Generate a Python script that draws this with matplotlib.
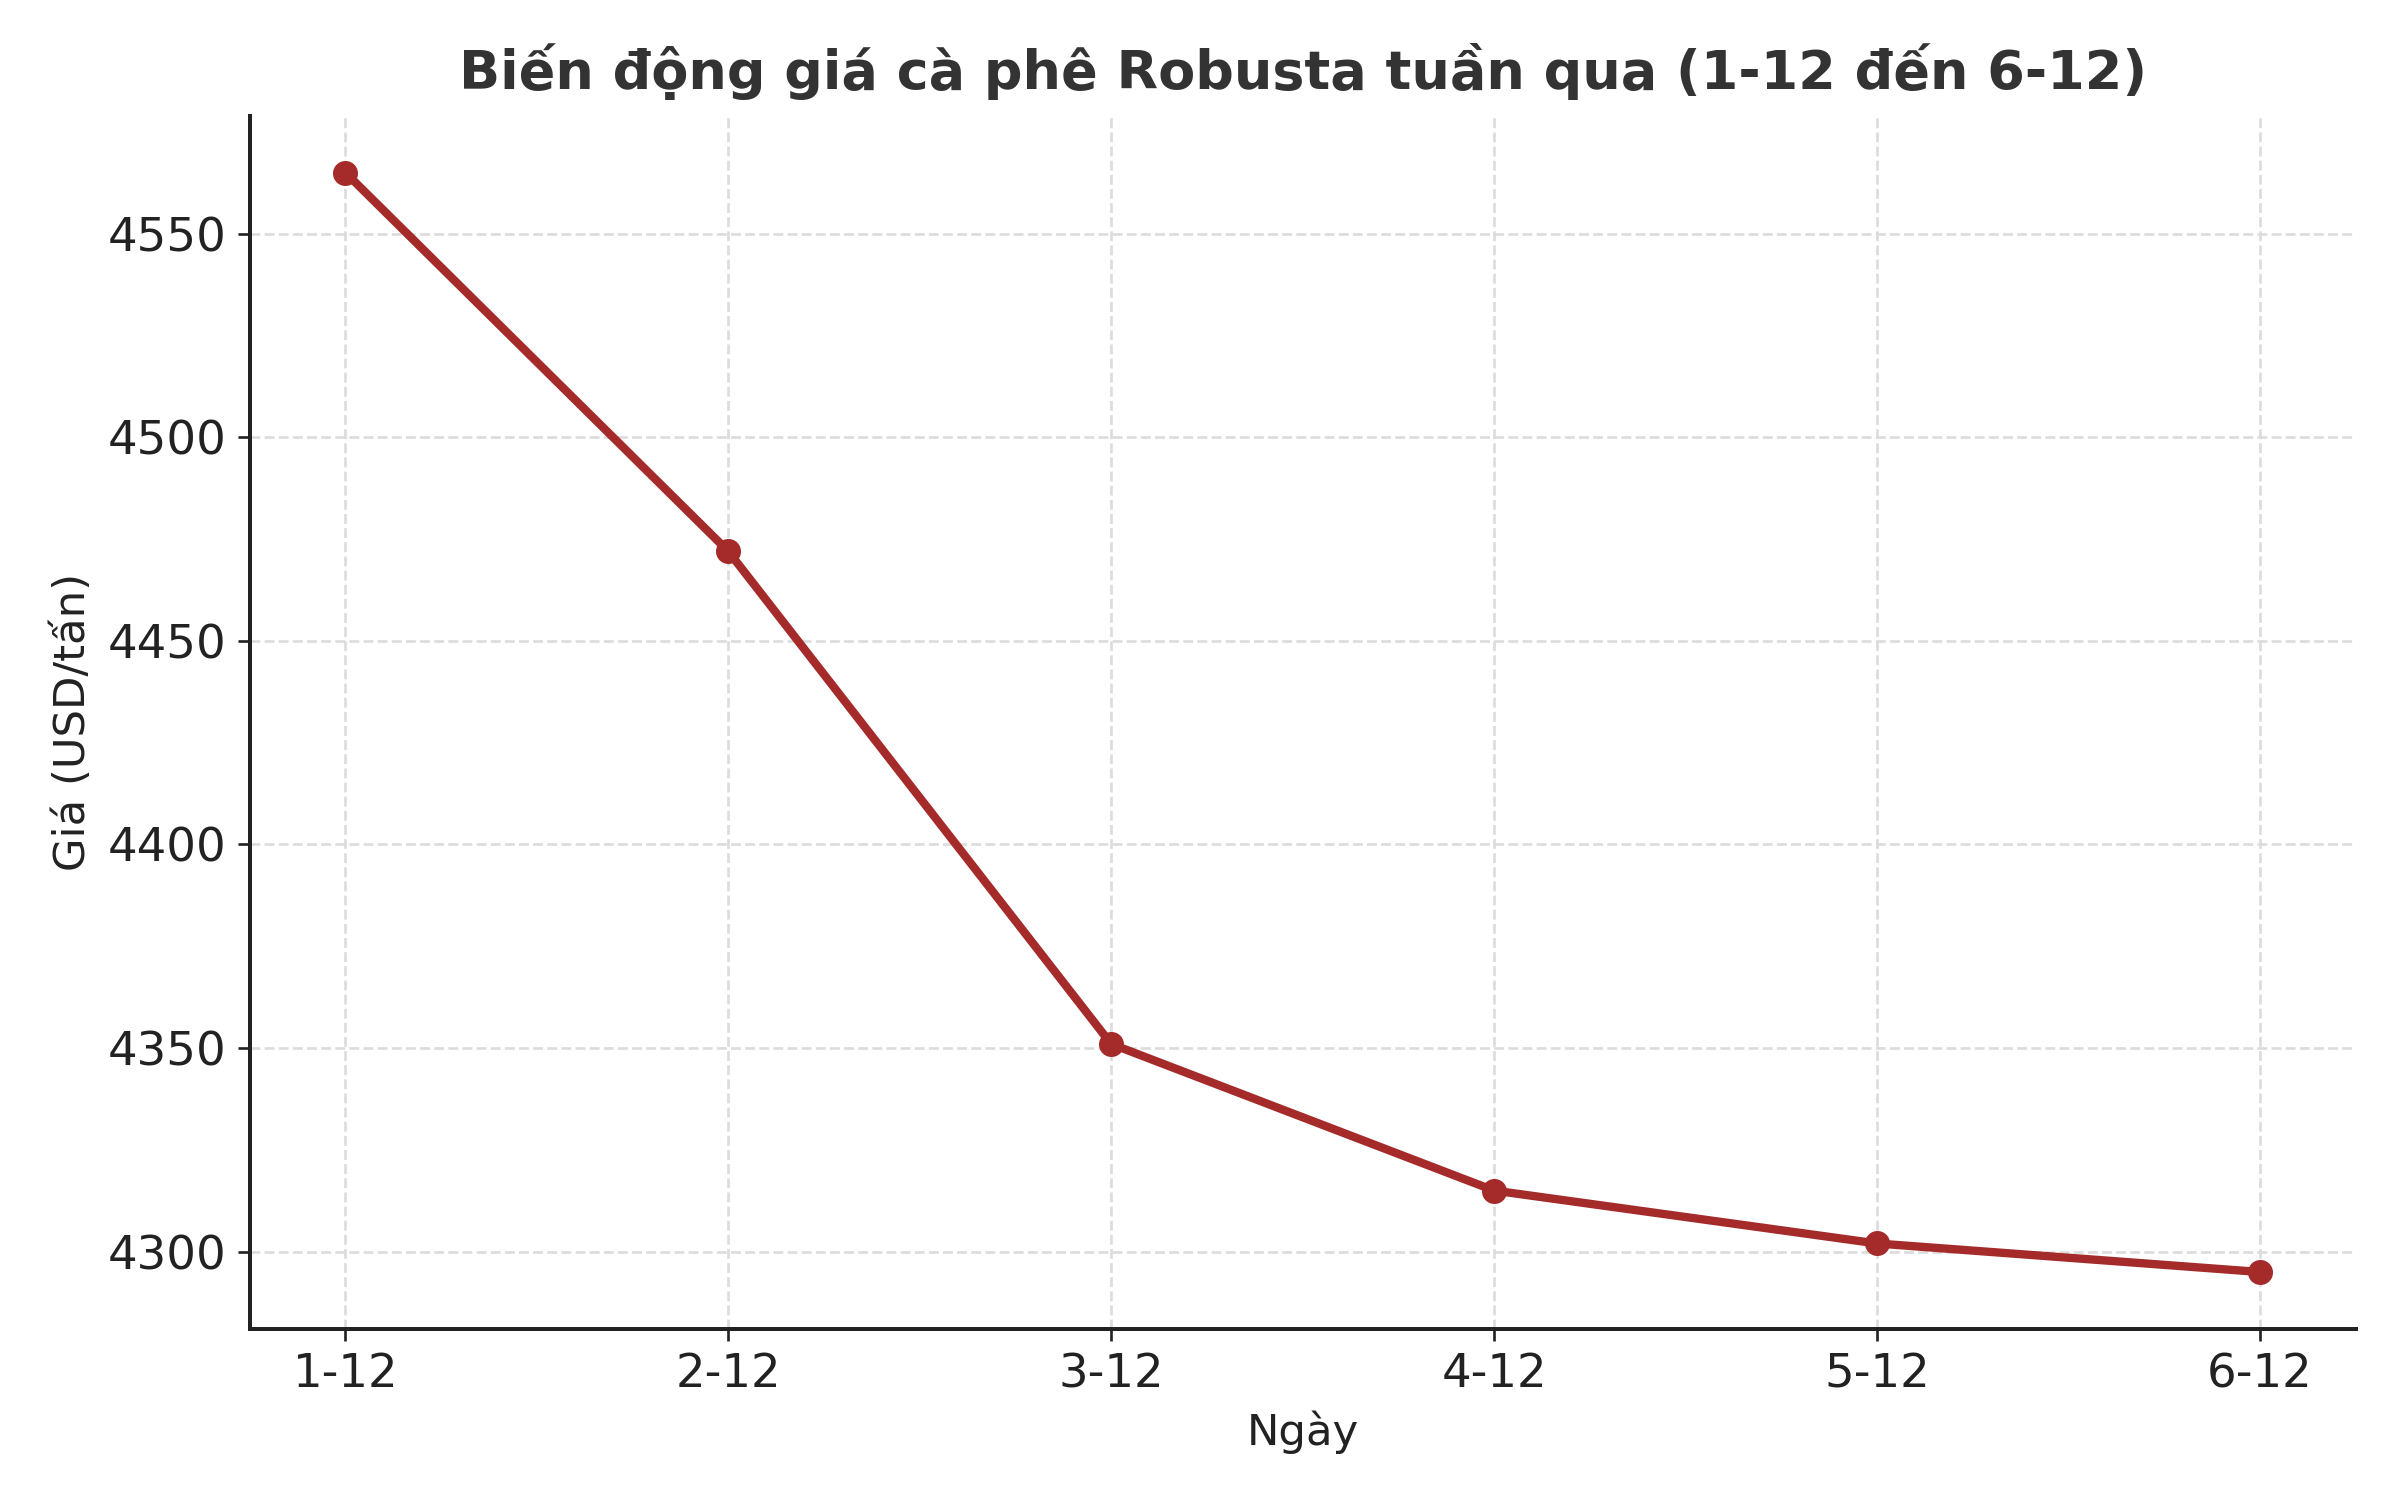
import matplotlib
matplotlib.use("Agg")
import matplotlib.pyplot as plt

dates = ["1-12", "2-12", "3-12", "4-12", "5-12", "6-12"]
prices = [4565, 4472, 4351, 4315, 4302, 4295]
yticks = [4300, 4350, 4400, 4450, 4500, 4550]

plt.rcParams['font.family'] = ['DejaVu Sans']

fig, ax = plt.subplots(figsize=(10, 6.25), dpi=240)
fig.subplots_adjust(left=0.104, right=0.9815, top=0.923, bottom=0.114)

ax.plot(dates, prices, color="#A52A2A", linewidth=2.5, marker="o", markersize=6.5)
ax.set_yticks(yticks)
ax.set_xlim(-0.25, 5.25)
ax.set_ylim(4281, 4579)

ax.set_title("Biến động giá cà phê Robusta tuần qua (1-12 đến 6-12)",
             fontsize=16.2, fontweight="bold", color="#333333", pad=8)
ax.set_xlabel("Ngày", fontsize=13, color="#222222")
ax.set_ylabel("Giá (USD/tấn)", fontsize=13, color="#222222")
ax.tick_params(axis="both", labelsize=14, colors="#222222")
ax.grid(True, linestyle="--", color="#dcdcdc", linewidth=0.8)
ax.set_axisbelow(True)
for s in ["top", "right"]:
    ax.spines[s].set_visible(False)
for s in ["left", "bottom"]:
    ax.spines[s].set_linewidth(1.2)
    ax.spines[s].set_color("#222222")

fig.savefig("out.png", dpi=240)
